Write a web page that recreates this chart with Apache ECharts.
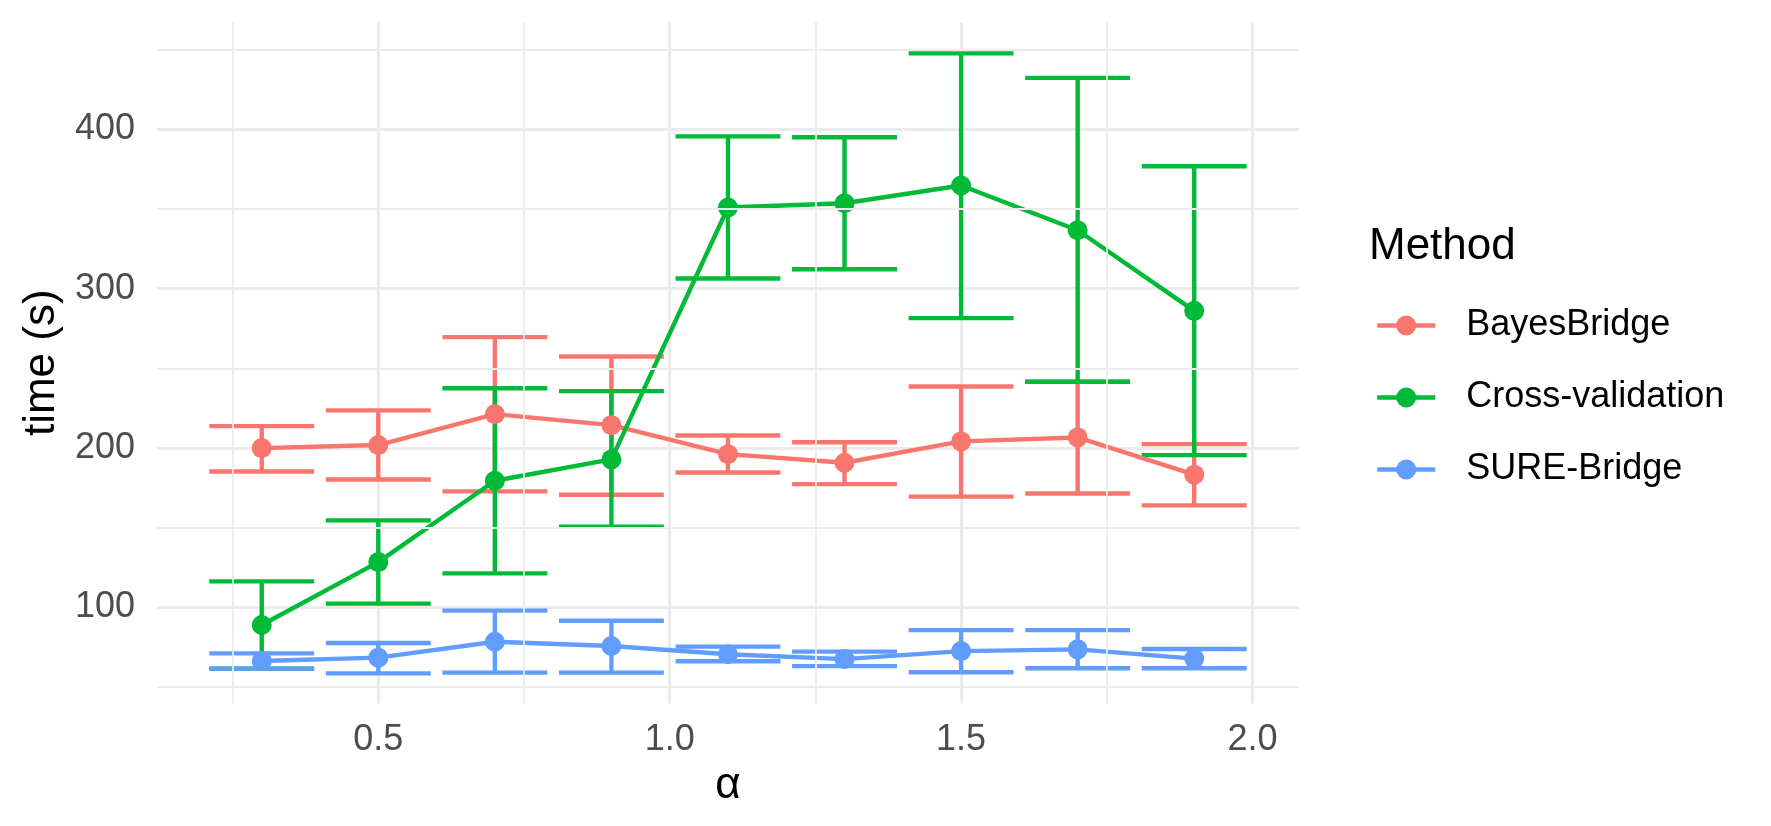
<!DOCTYPE html>
<html>
<head>
<meta charset="utf-8">
<script src="https://cdn.jsdelivr.net/npm/echarts@6/dist/echarts.min.js"></script>
<style>
html,body{margin:0;padding:0;background:#fff;}
#chart{width:1771px;height:826px;}
</style>
</head>
<body>
<div id="chart"></div>
<script>
// ---- data ----
const alpha = [0.3, 0.5, 0.7, 0.9, 1.1, 1.3, 1.5, 1.7, 1.9];
const methods = ['BayesBridge', 'Cross-validation', 'SURE-Bridge'];
const bayesMean = [199.9, 201.8, 221.2, 214.3, 196.1, 190.7, 204.1, 206.6, 183.2];
const bayesLow  = [185.2, 180.2, 172.7, 170.6, 184.6, 177.3, 169.4, 171.4, 163.9];
const bayesHigh = [213.7, 223.6, 269.6, 257.4, 207.8, 203.6, 238.6, 241.6, 202.4];
const cvMean = [88.8, 128.3, 179.4, 192.8, 351.0, 353.7, 364.8, 336.7, 286.1];
const cvLow  = [61.4, 102.2, 121.2, 150.5, 306.4, 312.2, 281.5, 241.6, 195.5];
const cvHigh = [116.2, 154.5, 237.5, 235.7, 395.7, 395.1, 447.8, 432.4, 376.9];
const sureMean = [66.2, 68.3, 78.3, 75.6, 70.4, 67.4, 72.4, 73.5, 67.7];
const sureLow  = [61.4, 58.4, 58.9, 58.9, 66.0, 63.0, 59.1, 61.6, 61.6];
const sureHigh = [71.0, 77.5, 97.8, 91.5, 75.2, 72.1, 85.6, 85.6, 73.7];
const xTicks = [0.5, 1.0, 1.5, 2.0];
const xMinorTicks = [0.25, 0.75, 1.25, 1.75];
const yTicks = [100, 200, 300, 400];
const yMinorTicks = [50, 150, 250, 350, 450];

// ---- styling ----
const colors = ['#F8766D', '#00BA38', '#619CFF'];
const CAP = 0.09;
const FONT = '"Liberation Sans", Arial, "DejaVu Sans", sans-serif';

const means = [bayesMean, cvMean, sureMean];
const lows = [bayesLow, cvLow, sureLow];
const highs = [bayesHigh, cvHigh, sureHigh];

function errRender(color) {
  return function (params, api) {
    const x = api.value(0), lo = api.value(1), hi = api.value(2);
    const top = api.coord([x, hi]), bot = api.coord([x, lo]);
    const tl = api.coord([x - CAP, hi]), tr = api.coord([x + CAP, hi]);
    const bl = api.coord([x - CAP, lo]), br = api.coord([x + CAP, lo]);
    const style = { stroke: color, lineWidth: 4.4, fill: null, lineCap: 'butt' };
    return {
      type: 'group',
      children: [
        { type: 'line', shape: { x1: top[0], y1: top[1], x2: bot[0], y2: bot[1] }, style: style },
        { type: 'line', shape: { x1: tl[0], y1: tl[1], x2: tr[0], y2: tr[1] }, style: style },
        { type: 'line', shape: { x1: bl[0], y1: bl[1], x2: br[0], y2: br[1] }, style: style }
      ]
    };
  };
}

const series = [];
// minor gridlines
series.push({
  type: 'line', name: 'grid-minor', data: [], silent: true, z: 0,
  markLine: {
    silent: true, symbol: 'none', animation: false,
    label: { show: false },
    lineStyle: { color: '#EBEBEB', width: 1.8, type: 'solid' },
    emphasis: { disabled: true },
    data: xMinorTicks.map(v => ({ xAxis: v })).concat(yMinorTicks.map(v => ({ yAxis: v })))
  }
});
methods.forEach((m, k) => {
  series.push({
    type: 'custom', name: m + ' error', z: 2,
    renderItem: errRender(colors[k]),
    encode: { x: 0, y: [1, 2] },
    data: alpha.map((a, i) => [a, lows[k][i], highs[k][i]]),
    animation: false, silent: true
  });
});
methods.forEach((m, k) => {
  series.push({
    type: 'line', name: m, z: 3,
    data: alpha.map((a, i) => [a, means[k][i]]),
    symbol: 'circle', symbolSize: 20, showSymbol: true,
    lineStyle: { color: colors[k], width: 4.4 },
    itemStyle: { color: colors[k] },
    animation: false
  });
});

const chart = echarts.init(document.getElementById('chart'), null, { renderer: 'canvas' });
chart.setOption({
  backgroundColor: '#ffffff',
  animation: false,
  textStyle: { fontFamily: FONT },
  title: {
    text: 'Method', left: 1369, top: 225, padding: 0,
    textStyle: { fontFamily: FONT, fontSize: 44, fontWeight: 'normal', color: '#000000' }
  },
  legend: {
    data: methods, orient: 'vertical', left: 1375, top: 305, padding: 0,
    itemWidth: 58, itemHeight: 25, itemGap: 31,
    lineStyle: { width: 4.4 },
    textStyle: { fontFamily: FONT, fontSize: 36, color: '#000000', lineHeight: 41, padding: [0, 0, 0, 26] }
  },
  grid: { left: 157, right: 472, top: 22, bottom: 122.5, containLabel: false },
  xAxis: {
    type: 'value', min: 0.1203, max: 2.0798,
    name: 'α', nameLocation: 'middle', nameGap: 53,
    nameTextStyle: { fontFamily: FONT, fontSize: 44, color: '#000000' },
    axisLine: { show: false },
    axisTick: { show: false, customValues: xTicks },
    axisLabel: {
      customValues: xTicks, margin: 19, fontSize: 36, color: '#4D4D4D', fontFamily: FONT,
      formatter: v => v.toFixed(1)
    },
    splitLine: { show: true, lineStyle: { color: '#EBEBEB', width: 3.2 } }
  },
  yAxis: {
    type: 'value', min: 39.5, max: 467.5,
    name: 'time (s)', nameLocation: 'middle', nameGap: 90, nameRotate: 90,
    nameTextStyle: { fontFamily: FONT, fontSize: 44, color: '#000000' },
    axisLine: { show: false },
    axisTick: { show: false, customValues: yTicks },
    axisLabel: { customValues: yTicks, margin: 22, fontSize: 36, color: '#4D4D4D', fontFamily: FONT },
    splitLine: { show: true, lineStyle: { color: '#EBEBEB', width: 3.2 } }
  },
  series: series
});
</script>
</body>
</html>
